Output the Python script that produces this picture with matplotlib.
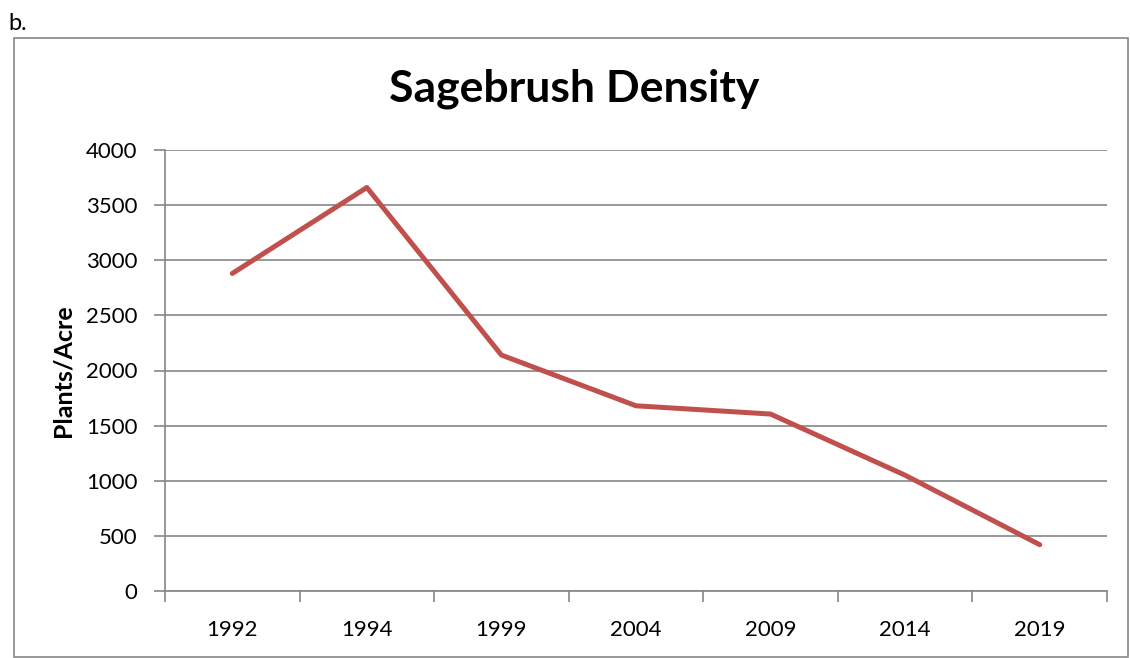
import numpy as np
import matplotlib.pyplot as plt
from matplotlib.patches import Rectangle

years = ['1992', '1994', '1999', '2004', '2009', '2014', '2019']
density = [2880, 3660, 2140, 1680, 1605, 1050, 420]
yticks = [0, 500, 1000, 1500, 2000, 2500, 3000, 3500, 4000]

plt.rcParams['font.family'] = ['Lato', 'DejaVu Sans']

fig = plt.figure(figsize=(11.3, 6.58), dpi=100)

# outer chart frame
fig.patches.append(Rectangle((14 / 1130, 1 / 658), 1114 / 1130, 619 / 658,
                             transform=fig.transFigure, fill=False,
                             edgecolor='#868686', linewidth=1.2))
fig.text(8 / 1130, 1 - 24 / 658, 'b.', fontsize=17, va='center', ha='left')

ax = fig.add_axes([165 / 1130, 1 - 591 / 658, (1107 - 165) / 1130, (591 - 150) / 658])

x = np.arange(len(years))
ax.plot(x, density, color='#C0504D', linewidth=3.6, solid_capstyle='round', zorder=3)

ax.set_xlim(-0.5, len(years) - 0.5)
ax.set_ylim(0, 4000)
ax.set_yticks(yticks)
ax.set_yticklabels([str(v) for v in yticks], fontsize=16)
ax.set_xticks(x)
ax.set_xticklabels(years, fontsize=16)
ax.set_xticks(np.arange(-0.5, len(years)), minor=True)
ax.tick_params(axis='x', which='major', length=0, pad=21)
ax.tick_params(axis='x', which='minor', length=8, color='#868686', width=1.2)
ax.tick_params(axis='y', length=8, color='#868686', width=1.2, pad=12)

ax.grid(axis='y', color='#868686', linewidth=1.2)
ax.set_axisbelow(True)
for side in ['top', 'right']:
    ax.spines[side].set_visible(False)
for side in ['left', 'bottom']:
    ax.spines[side].set_color('#868686')
    ax.spines[side].set_linewidth(1.2)

ax.set_ylabel('Plants/Acre', fontsize=18, fontweight='bold', labelpad=8)
fig.text(574 / 1130, 1 - 89 / 658, 'Sagebrush Density', fontsize=32,
         fontweight='bold', ha='center', va='center')

fig.savefig('out.png', dpi=100)
